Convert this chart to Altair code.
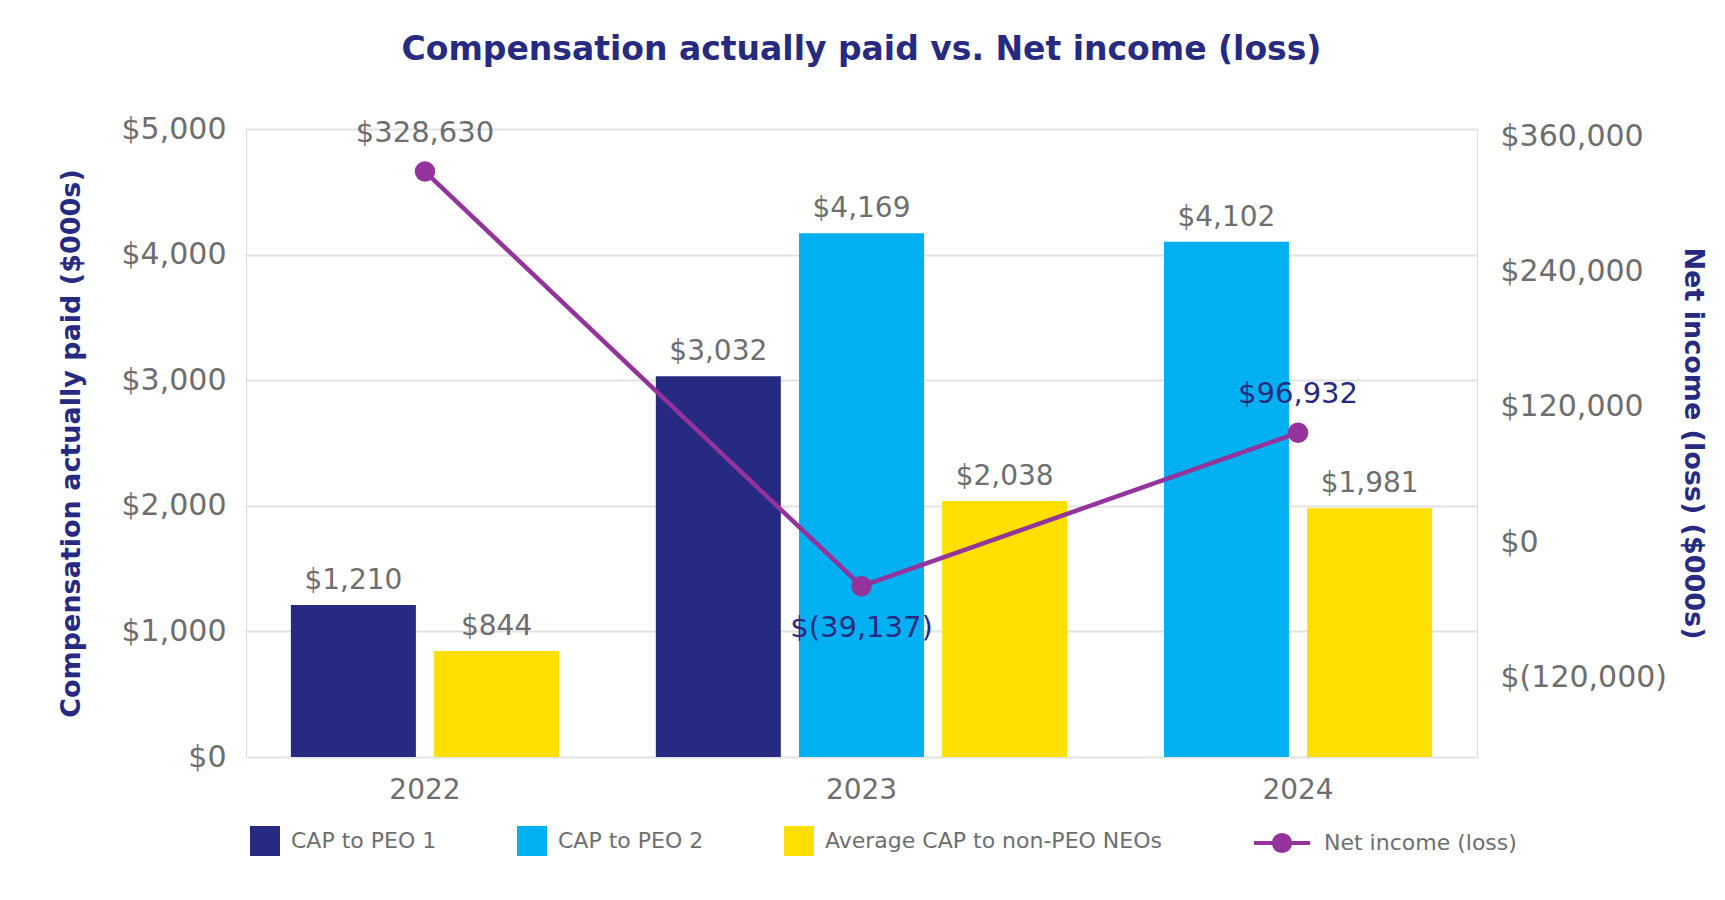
import altair as alt
import pandas as pd

# ---------------- data ----------------
years = ["2022", "2023", "2024"]
series_names = ["CAP to PEO 1", "CAP to PEO 2", "Average CAP to non-PEO NEOs"]
cap_peo1 = [1210, 3032, None]
cap_peo2 = [None, 4169, 4102]
cap_avg_neo = [844, 2038, 1981]
net_income = [328630, -39137, 96932]
net_income_name = "Net income (loss)"
left_ticks = [0, 1000, 2000, 3000, 4000, 5000]
right_ticks = [-120000, 0, 120000, 240000, 360000]

# ---------------- styles ----------------
NAVY = "#262A80"
CYAN = "#00B0F0"
YELLOW = "#FFDF00"
PURPLE = "#93339B"
GRAY = "#6E6E6E"
GRID = "#E2E2E2"
FONT = "DejaVu Sans"

# bars of one year are packed side by side around the year's centre
rows = []
for i, yr in enumerate(years):
    present = [(s, v) for s, v in zip(series_names, (cap_peo1[i], cap_peo2[i], cap_avg_neo[i])) if v is not None]
    n = len(present)
    for k, (s, v) in enumerate(present):
        rows.append({"year": yr, "series": s, "value": v, "slot": 2 * k - (n - 1) + 2})
bars_df = pd.DataFrame(rows)
ni_df = pd.DataFrame({"year": years, "value": net_income, "series": [net_income_name] * len(years)})

x_enc = alt.X(
    "year:N",
    scale=alt.Scale(domain=years, paddingInner=0.18, paddingOuter=0),
    axis=alt.Axis(title=None, labelFont=FONT, labelFontSize=28, labelColor=GRAY,
                  labelPadding=19, ticks=False, domain=False, labelAngle=0),
)
xoff = alt.XOffset("slot:O", scale=alt.Scale(domain=[0, 1, 2, 3, 4], paddingInner=0, paddingOuter=0))

y_left = alt.Y(
    "value:Q",
    scale=alt.Scale(domain=[0, 5000], nice=False),
    axis=alt.Axis(
        title="Compensation actually paid ($000s)", values=left_ticks,
        labelExpr="'$' + format(datum.value, ',')",
        grid=True, gridColor=GRID, gridWidth=2, ticks=False, domain=False,
        labelFont=FONT, labelFontSize=30, labelColor=GRAY, labelPadding=20,
        titleFont=FONT, titleFontSize=27, titleFontWeight="bold", titleColor=NAVY, titlePadding=36,
    ),
)

bars = alt.Chart(bars_df).mark_bar(width=125).encode(
    x=x_enc,
    xOffset=xoff,
    y=y_left,
    color=alt.Color(
        "series:N",
        scale=alt.Scale(domain=series_names, range=[NAVY, CYAN, YELLOW]),
        legend=alt.Legend(
            title=None, orient="none", legendX=4, legendY=697, direction="horizontal",
            symbolType="square", symbolSize=900, symbolStrokeWidth=0, symbolOpacity=1,
            labelFont=FONT, labelFontSize=22, labelColor=GRAY, labelOffset=11, columnPadding=80,
            labelLimit=0,
        ),
    ),
)

bar_text = alt.Chart(bars_df).transform_calculate(
    lbl="'$' + format(datum.value, ',')"
).mark_text(font=FONT, fontSize=28, color=GRAY, baseline="alphabetic", dy=-16).encode(
    x=alt.X("year:N"), xOffset=xoff, y=alt.Y("value:Q"), text="lbl:N"
)

left_layer = alt.layer(bars, bar_text)

y_right = alt.Y(
    "value:Q",
    scale=alt.Scale(domain=[-190700, 366400], nice=False, zero=False),
    axis=alt.Axis(
        orient="right", title="Net income (loss) ($000s)", values=right_ticks,
        labelExpr="datum.value < 0 ? '$(' + format(-datum.value, ',') + ')' : '$' + format(datum.value, ',')",
        grid=False, ticks=False, domain=False,
        labelFont=FONT, labelFontSize=30, labelColor=GRAY, labelPadding=23,
        titleFont=FONT, titleFontSize=27, titleFontWeight="bold", titleColor=NAVY,
        titlePadding=12, titleAngle=90,
    ),
)

LEG_PATH = "M-1,0L1,0M-0.29,0A0.29,0.29,0,1,1,0.29,0A0.29,0.29,0,1,1,-0.29,0Z"

line = alt.Chart(ni_df).mark_line(strokeWidth=4.5).encode(
    x=alt.X("year:N"),
    y=y_right,
    stroke=alt.Stroke(
        "series:N",
        scale=alt.Scale(domain=[net_income_name], range=[PURPLE]),
        legend=alt.Legend(
            title=None, orient="none", legendX=1006, legendY=684,
            symbolType=LEG_PATH, symbolSize=3136, symbolStrokeWidth=4,
            symbolFillColor=PURPLE, symbolStrokeColor=PURPLE,
            labelFont=FONT, labelFontSize=22, labelColor=GRAY, labelOffset=12, labelLimit=0,
        ),
    ),
)

points = alt.Chart(ni_df).mark_circle(size=420, opacity=1, color=PURPLE).encode(
    x=alt.X("year:N"), y=alt.Y("value:Q")
)

ni_label = "datum.value < 0 ? '$(' + format(-datum.value, ',') + ')' : '$' + format(datum.value, ',')"
label_color = alt.condition(alt.datum.year == "2022", alt.value(GRAY), alt.value(NAVY))

ni_text_pos = alt.Chart(ni_df).transform_filter("datum.value >= 0").transform_calculate(
    lbl=ni_label
).mark_text(font=FONT, fontSize=29, baseline="middle", dy=-39).encode(
    x=alt.X("year:N"), y=alt.Y("value:Q"), text="lbl:N", color=label_color
)
ni_text_neg = alt.Chart(ni_df).transform_filter("datum.value < 0").transform_calculate(
    lbl=ni_label
).mark_text(font=FONT, fontSize=29, baseline="middle", dy=42).encode(
    x=alt.X("year:N"), y=alt.Y("value:Q"), text="lbl:N", color=label_color
)

right_layer = alt.layer(line, points, ni_text_pos, ni_text_neg)

chart = alt.layer(left_layer, right_layer).resolve_scale(y="independent").properties(
    width=1231,
    height=628,
    autosize=alt.AutoSizeParams(type="none"),
    padding={"left": 246, "top": 129, "right": 248, "bottom": 143},
    title=alt.TitleParams(
        text="Compensation actually paid vs. Net income (loss)",
        font=FONT, fontSize=33, fontWeight="bold", color=NAVY, anchor="middle", offset=47,
    ),
).configure_view(stroke=None).configure(background="white")

chart.save("out.html", embed_options={"renderer": "svg", "actions": False})
